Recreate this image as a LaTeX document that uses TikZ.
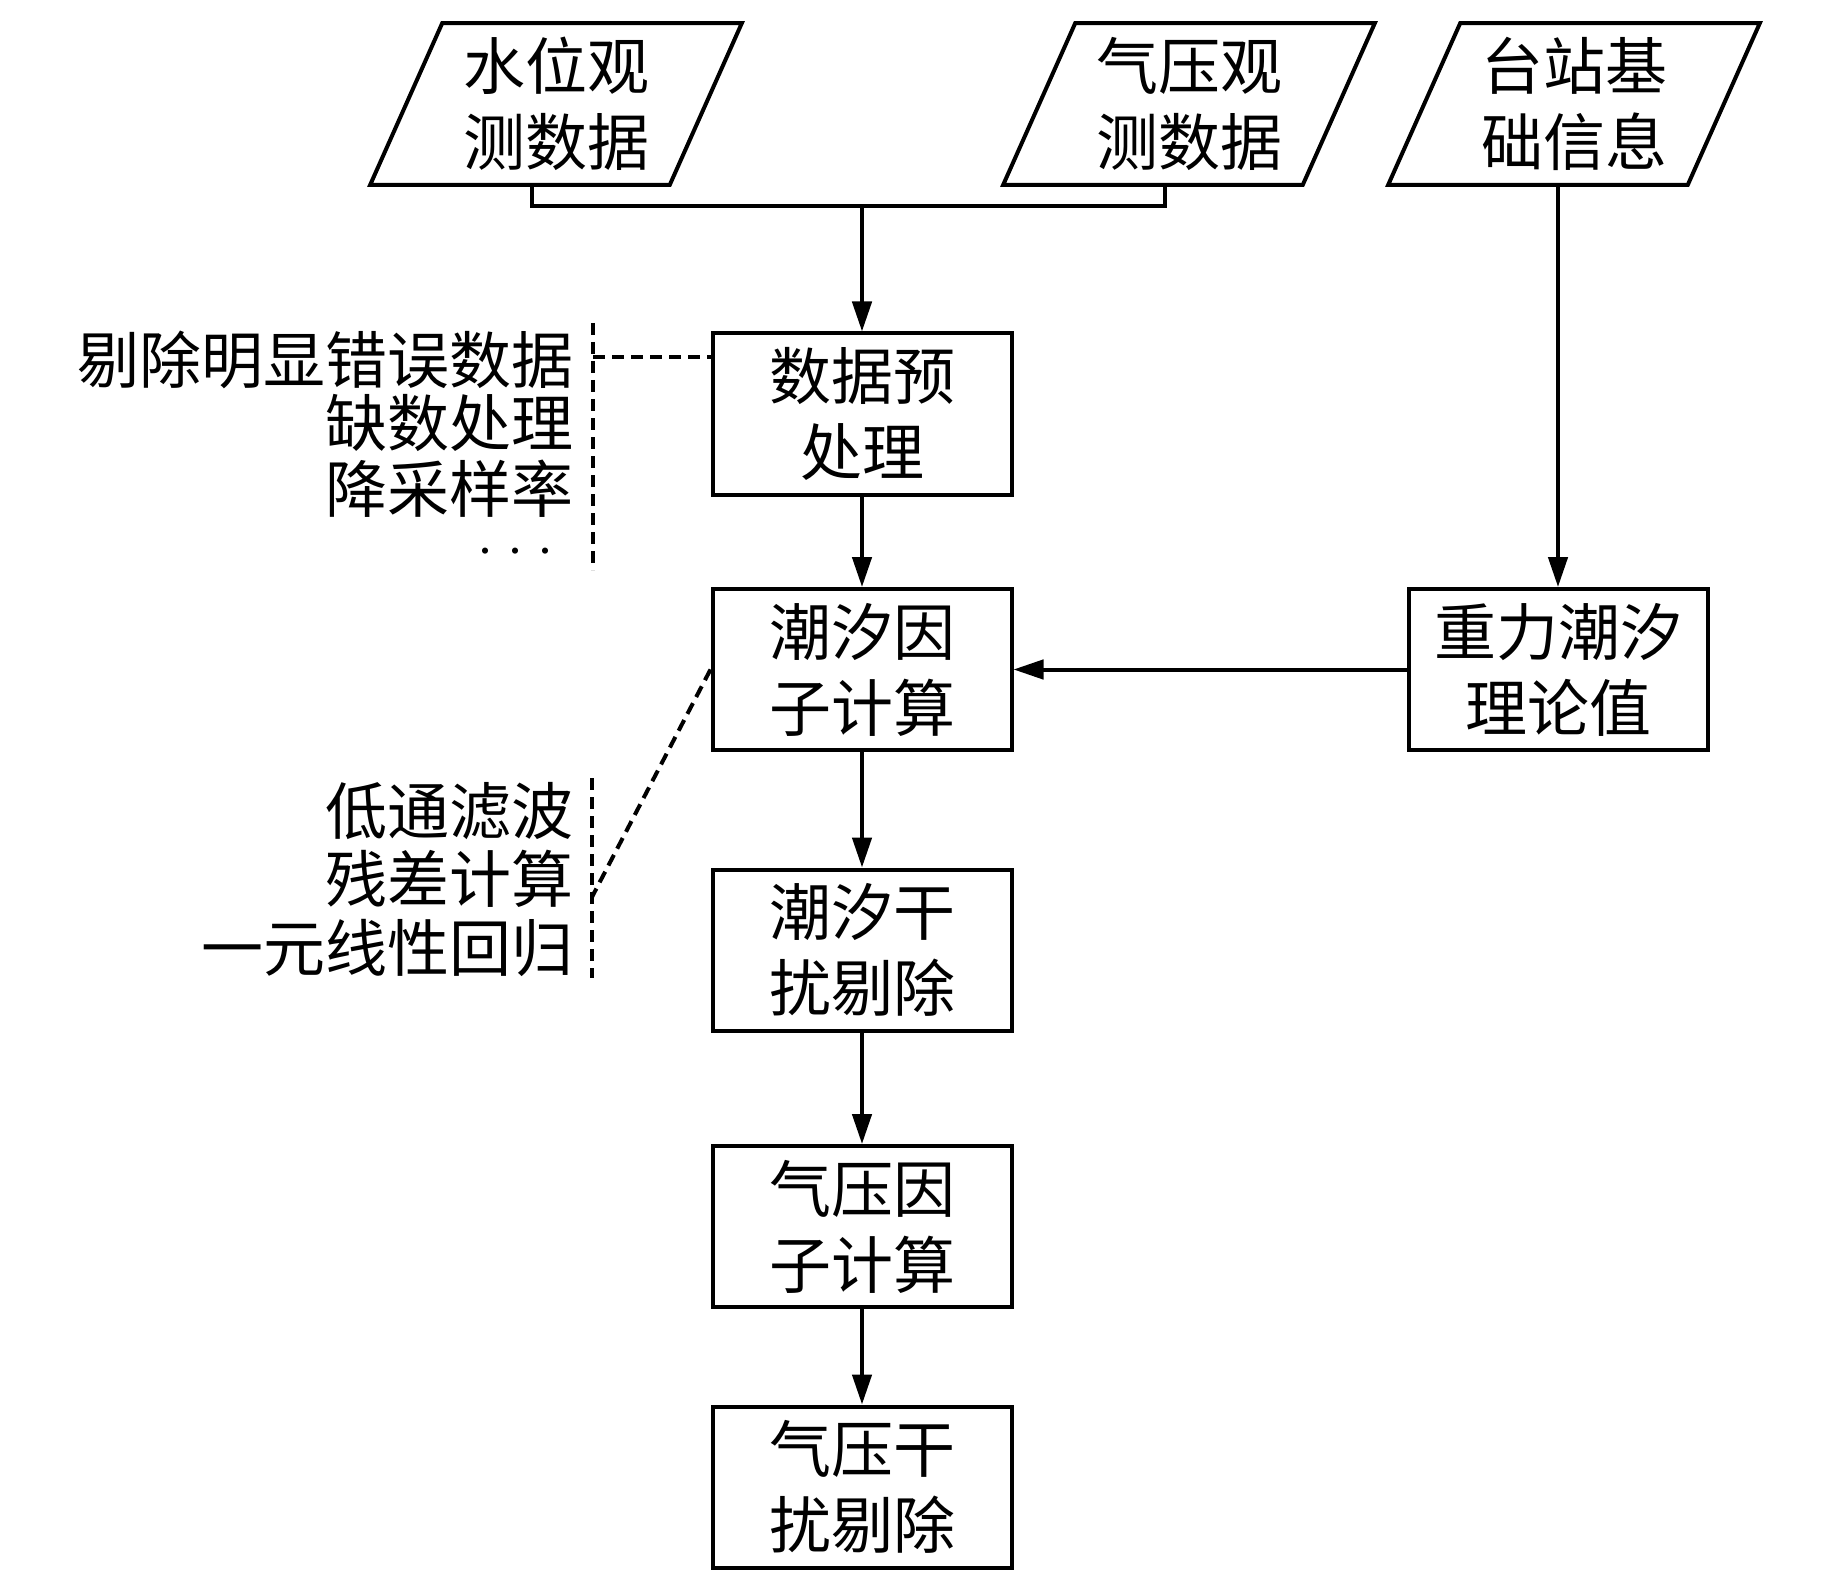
\documentclass[tikz,border=0pt]{standalone}
\usepackage{fontspec}
\setmainfont{Noto Sans CJK SC}
\usetikzlibrary{arrows.meta,calc}
\begin{document}
\begin{tikzpicture}[x=0.25pt,y=-0.25pt,
  every node/.style={inner sep=0pt, font=\fontsize{15.5pt}{19pt}\selectfont},
  box/.style={draw, line width=1pt, minimum width=74.75pt, minimum height=40.25pt, align=center},
  para/.style={minimum width=74.5pt, minimum height=40pt, align=center},
  line/.style={line width=1pt},
  arr/.style={line width=1pt, -{Triangle[length=7.5pt,width=4.8pt]}},
  dsh/.style={line width=1pt, dash pattern=on 3pt off 1.75pt},
  note/.style={anchor=east}
]
\useasboundingbox (0,0) rectangle (1843,1583);

% input parallelograms
\node[para] (wl) at (556,104) {水位观\\测数据};
\node[para] (qy) at (1189,104) {气压观\\测数据};
\node[para] (tz) at (1574,104) {台站基\\础信息};
\foreach \n in {wl,qy,tz}{
  \draw[line] ($(\n.north west)+(36,0)$) -- ($(\n.north east)+(36,0)$)
    -- ($(\n.south east)+(-36,0)$) -- ($(\n.south west)+(-36,0)$) -- cycle;
}

% process boxes
\node[box] (b1) at (862,414) {数据预\\处理};
\node[box] (b2) at (862,669.5) {潮汐因\\子计算};
\node[box] (b3) at (862,950) {潮汐干\\扰剔除};
\node[box] (b4) at (862,1226.5) {气压因\\子计算};
\node[box] (b5) at (862,1487) {气压干\\扰剔除};
\node[box] (gl) at (1558,669.5) {重力潮汐\\理论值};

% connectors
\coordinate (j) at (862,206);
\draw[line] ($(wl.south)+(-24,0)$) |- (j) -| ($(qy.south)+(-24,0)$);
\draw[arr] (j) -- (b1.north);
\draw[arr] (b1) -- (b2);
\draw[arr] (b2) -- (b3);
\draw[arr] (b3) -- (b4);
\draw[arr] (b4) -- (b5);
\draw[arr] (tz.south -| gl.north) -- (gl.north);
\draw[arr] (gl.west) -- (b2.east);

% annotation block 1
\node[note] (n1) at (574,360) {剔除明显错误数据};
\node[note] (n2) at (574,423) {缺数处理};
\node[note] (n3) at (574,489) {降采样率};
\node[anchor=base east] (n4) at (554,565.5) {$\cdot$\hspace{3.45pt}$\cdot$\hspace{3.45pt}$\cdot$};
\coordinate (d1t) at (593,323);
\coordinate (d1b) at (593,570);
\coordinate (d1m) at (593,357);
\draw[dsh] (d1t) -- (d1b);
\draw[dsh] (d1m) -- (d1m -| b1.west);

% annotation block 2
\node[note] (m1) at (574,811.5) {低通滤波};
\node[note] (m2) at (574,879) {残差计算};
\node[note] (m3) at (574,948) {一元线性回归};
\coordinate (d2t) at (592,778);
\coordinate (d2b) at (592,978);
\coordinate (d2m) at (592,897);
\draw[dsh] (d2t) -- (d2b);
\draw[dsh] (b2.west) -- (d2m);
\end{tikzpicture}
\end{document}
